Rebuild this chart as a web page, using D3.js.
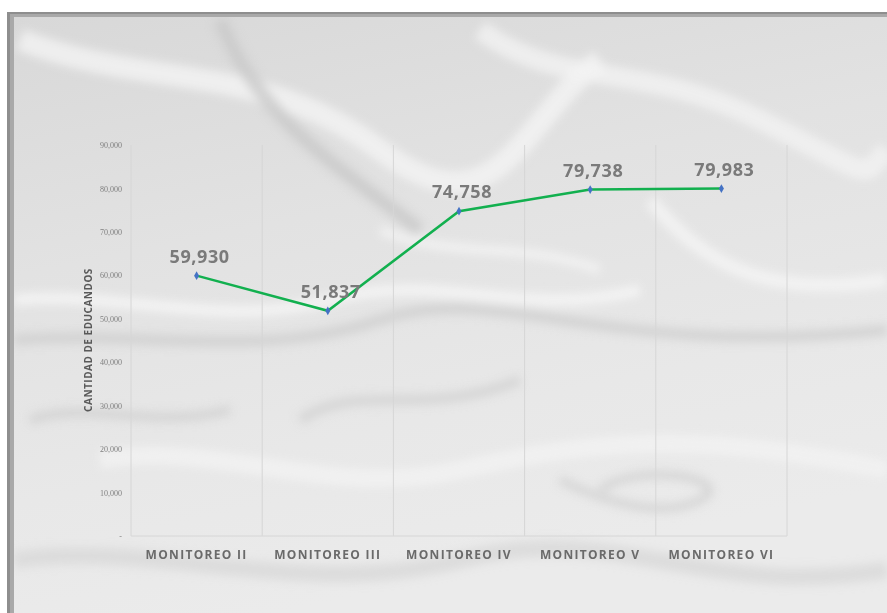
<!DOCTYPE html>
<html>
<head>
<meta charset="utf-8">
<script src="https://d3js.org/d3.v7.min.js"></script>
<style>
  body { margin: 0; background: #ffffff; }
</style>
</head>
<body>
<div id="my_dataviz"></div>
<script>
// data
var categories = ["MONITOREO II", "MONITOREO III", "MONITOREO IV", "MONITOREO V", "MONITOREO VI"];
var educandos = [59930, 51837, 74758, 79738, 79983];
var yTicks = [0, 10000, 20000, 30000, 40000, 50000, 60000, 70000, 80000, 90000];

var W = 887, H = 613;
var margin = {top: 145, right: 100, bottom: 77, left: 131},
    width = 787 - margin.left,
    height = 536 - margin.top;

var root = d3.select("#my_dataviz")
  .append("svg")
    .attr("width", W)
    .attr("height", H);

var defs = root.append("defs");

// background paper look
var bg = defs.append("linearGradient")
    .attr("id", "paper")
    .attr("x1", "0").attr("y1", "0")
    .attr("x2", "0.3").attr("y2", "1");
bg.append("stop").attr("offset", "0%").attr("stop-color", "#d8d8d8");
bg.append("stop").attr("offset", "40%").attr("stop-color", "#e2e2e2");
bg.append("stop").attr("offset", "75%").attr("stop-color", "#e8e8e8");
bg.append("stop").attr("offset", "100%").attr("stop-color", "#ebebeb");

defs.append("filter")
    .attr("id", "soft")
    .attr("x", "-20%").attr("y", "-20%").attr("width", "140%").attr("height", "140%")
  .append("feGaussianBlur")
    .attr("stdDeviation", 5);

defs.append("clipPath").attr("id", "frameClip")
  .append("rect")
    .attr("x", 14).attr("y", 17)
    .attr("width", W - 14).attr("height", H - 17);

// frame border
root.append("rect")
    .attr("x", 7).attr("y", 12)
    .attr("width", W - 7).attr("height", H - 12)
    .attr("fill", "#8e8e8e");
root.append("rect")
    .attr("x", 10).attr("y", 14)
    .attr("width", W - 10).attr("height", H - 14)
    .attr("fill", "#a9a9a9");

var paper = root.append("g").attr("clip-path", "url(#frameClip)");
paper.append("rect")
    .attr("x", 14).attr("y", 17)
    .attr("width", W - 14).attr("height", H - 17)
    .attr("fill", "url(#paper)");

// a few soft folds
var folds = [
  {d: "M20,40 C150,90 260,60 380,150 S520,120 600,60", c: "#f4f4f4", w: 22},
  {d: "M220,20 C260,120 330,160 420,230", c: "#c9c9c9", w: 14},
  {d: "M480,30 C560,90 640,60 760,120 S860,180 887,150", c: "#f2f2f2", w: 20},
  {d: "M14,300 C120,290 220,330 330,300 S520,320 640,290", c: "#f6f6f6", w: 12},
  {d: "M14,340 C140,330 260,360 380,320 S600,360 887,330", c: "#cdcdcd", w: 10},
  {d: "M100,460 C220,440 330,500 460,470 S700,430 887,470", c: "#f3f3f3", w: 18},
  {d: "M14,560 C160,540 300,600 460,560 S700,600 887,570", c: "#d8d8d8", w: 16},
  {d: "M560,480 C600,500 660,520 700,500 S640,460 600,490", c: "#cfcfcf", w: 8},
  {d: "M650,200 C700,260 760,300 887,280", c: "#f5f5f5", w: 14},
  {d: "M300,420 C360,380 420,420 520,380", c: "#d2d2d2", w: 10},
  {d: "M30,420 C90,400 150,430 230,410", c: "#d0d0d0", w: 9},
  {d: "M380,230 C450,260 520,240 600,270", c: "#f4f4f4", w: 10}
];
paper.append("g")
    .attr("filter", "url(#soft)")
  .selectAll("path")
  .data(folds)
  .enter().append("path")
    .attr("d", function(d) { return d.d; })
    .attr("fill", "none")
    .attr("stroke", function(d) { return d.c; })
    .attr("stroke-width", function(d) { return d.w; })
    .attr("opacity", 0.8);

var svg = paper.append("g")
    .attr("transform", "translate(" + margin.left + "," + margin.top + ")");

// scales
var x = d3.scaleBand()
    .domain(categories)
    .range([0, width]);

var y = d3.scaleLinear()
    .domain([0, 90000])
    .range([height, 0]);

// vertical gridlines between categories
var bounds = categories.map(function(c) { return x(c); }).concat([width]);
svg.append("g")
  .selectAll("line")
  .data(bounds)
  .enter().append("line")
    .attr("x1", function(d) { return d; })
    .attr("x2", function(d) { return d; })
    .attr("y1", 0)
    .attr("y2", height)
    .attr("stroke", "#d6d6d6")
    .attr("stroke-width", 1);

// bottom axis line
svg.append("line")
    .attr("x1", 0).attr("x2", width)
    .attr("y1", height).attr("y2", height)
    .attr("stroke", "#d6d6d6");

// Y axis
var yAxis = svg.append("g")
    .call(d3.axisLeft(y)
      .tickValues(yTicks)
      .tickSize(0)
      .tickPadding(9)
      .tickFormat(function(d) { return d === 0 ? "-" : d3.format(",")(d); }));
yAxis.select(".domain").remove();
yAxis.selectAll("text")
    .attr("fill", "#7f7f7f")
    .style("font-family", "'Liberation Serif', serif")
    .style("font-size", "8px");

svg.append("text")
    .attr("transform", "rotate(-90)")
    .attr("x", -195)
    .attr("y", -39)
    .style("text-anchor", "middle")
    .style("font-family", "'Open Sans', sans-serif")
    .style("font-weight", "bold")
    .style("font-size", "10px")
    .style("letter-spacing", "0.5px")
    .attr("fill", "#595959")
    .text("CANTIDAD DE EDUCANDOS");

// X axis labels
svg.append("g")
  .selectAll("text")
  .data(categories)
  .enter().append("text")
    .attr("x", function(d) { return x(d) + x.bandwidth() / 2; })
    .attr("y", height + 23)
    .style("text-anchor", "middle")
    .style("font-family", "'Open Sans', sans-serif")
    .style("font-weight", "bold")
    .style("font-size", "12px")
    .style("letter-spacing", "1.3px")
    .attr("fill", "#6a6a6a")
    .text(function(d) { return d; });

// the line
var pts = categories.map(function(c, i) { return {cat: c, v: educandos[i]}; });
var line = d3.line()
    .x(function(d) { return x(d.cat) + x.bandwidth() / 2; })
    .y(function(d) { return y(d.v); });

svg.append("path")
    .datum(pts)
    .attr("d", line)
    .attr("fill", "none")
    .attr("stroke", "#12b04f")
    .attr("stroke-width", 2.5);

// markers
svg.append("g")
  .selectAll("path")
  .data(pts)
  .enter().append("path")
    .attr("d", d3.symbol().type(d3.symbolDiamond).size(22))
    .attr("transform", function(d) {
      return "translate(" + (x(d.cat) + x.bandwidth() / 2) + "," + y(d.v) + ")";
    })
    .attr("fill", "#4472c4");

// data labels
svg.append("g")
  .selectAll("text")
  .data(pts)
  .enter().append("text")
    .attr("x", function(d) { return x(d.cat) + x.bandwidth() / 2 + 3; })
    .attr("y", function(d) { return y(d.v) - 13; })
    .style("text-anchor", "middle")
    .style("font-family", "'Open Sans', sans-serif")
    .style("font-weight", "bold")
    .style("font-size", "18px")
    .style("letter-spacing", "0.6px")
    .attr("fill", "#7a7a7a")
    .text(function(d) { return d3.format(",")(d.v); });
</script>
</body>
</html>
